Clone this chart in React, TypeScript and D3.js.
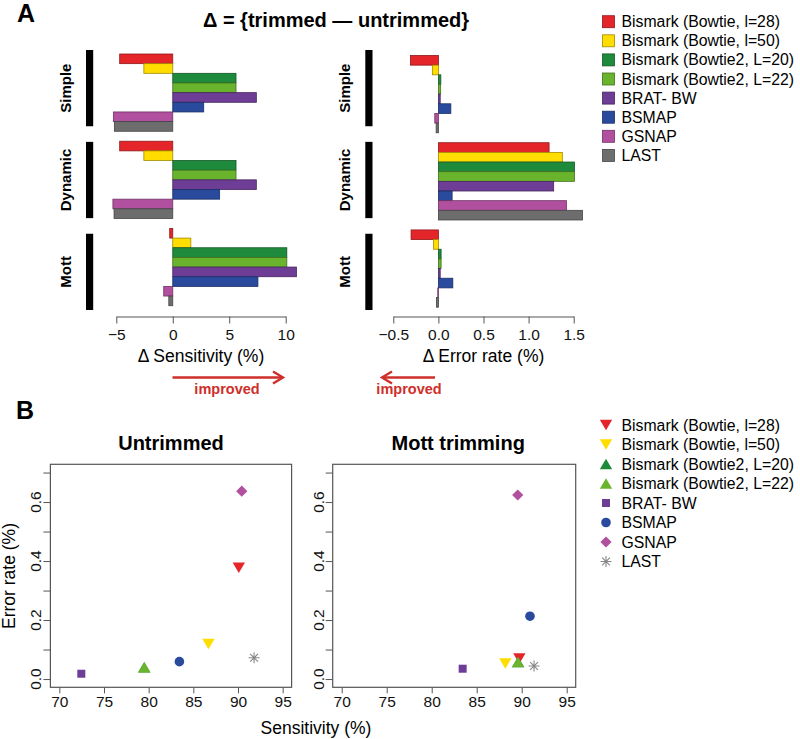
import * as d3 from 'd3';
import React, { useEffect, useRef } from 'react';

// methods, shared by every panel
const methods = [
    'Bismark (Bowtie, l=28)',
    'Bismark (Bowtie, l=50)',
    'Bismark (Bowtie2, L=20)',
    'Bismark (Bowtie2, L=22)',
    'BRAT- BW',
    'BSMAP',
    'GSNAP',
    'LAST',
];
const colors = ['#e4262a', '#ffdd00', '#1e8a3c', '#6ab42d', '#6e3d96', '#2a4a9e', '#b0509e', '#6d6d6d'];
const shapes = ['down', 'down', 'up', 'up', 'square', 'circle', 'diamond', 'star'];
const groups = ['Simple', 'Dynamic', 'Mott'];

// panel A: trimmed - untrimmed
const sensSimple = [-4.7, -2.56, 5.6, 5.6, 7.4, 2.74, -5.26, -5.17];
const sensDynamic = [-4.7, -2.56, 5.6, 5.6, 7.4, 4.15, -5.3, -5.2];
const sensMott = [-0.27, 1.6, 10.1, 10.1, 10.95, 7.54, -0.8, -0.35];
const errSimple = [-0.31, -0.067, 0.027, 0.025, 0.02, 0.138, -0.04, -0.025];
const errDynamic = [1.227, 1.374, 1.508, 1.508, 1.278, 0.152, 1.419, 1.597];
const errMott = [-0.303, -0.055, 0.03, 0.03, 0.02, 0.16, -0.007, -0.022];
const sensTicks = [-5, 0, 5, 10];
const errTicks = [-0.5, 0, 0.5, 1, 1.5];

// panel B: sensitivity vs error rate
const untrimmedSens = [90.09, 86.69, 79.5, 79.52, 72.46, 83.44, 90.42, 91.8];
const untrimmedErr = [0.377, 0.119, 0.04, 0.04, 0.018, 0.059, 0.637, 0.072];
const mottSens = [89.74, 88.18, 89.6, 89.6, 83.44, 90.92, 89.56, 91.37];
const mottErr = [0.07, 0.053, 0.058, 0.058, 0.035, 0.213, 0.624, 0.044];
const scatterXTicks = [70, 75, 80, 85, 90, 95];
const scatterYTicks = [0, 0.1, 0.2, 0.3, 0.4, 0.5, 0.6, 0.7];

const FONT = 'Liberation Sans, Arial, Helvetica, sans-serif';
const AXIS = '#555';
const RED = '#cf2f2a';

function drawMarker(g, shape, x, y, color, scale = 1) {
    const s = scale;
    if (shape === 'down' || shape === 'up') {
        const dir = shape === 'down' ? 1 : -1;
        const w = 6.2 * s, h = 10.5 * s;
        g.append('path')
            .attr('d', `M${x - w},${y - dir * h / 2}L${x + w},${y - dir * h / 2}L${x},${y + dir * h / 2}Z`)
            .attr('fill', color);
    } else if (shape === 'square') {
        const a = 4 * s;
        g.append('rect').attr('x', x - a).attr('y', y - a).attr('width', 2 * a).attr('height', 2 * a).attr('fill', color);
    } else if (shape === 'circle') {
        g.append('circle').attr('cx', x).attr('cy', y).attr('r', 4.8 * s).attr('fill', color);
    } else if (shape === 'diamond') {
        const a = 5.6 * s;
        g.append('path').attr('d', `M${x},${y - a}L${x + a},${y}L${x},${y + a}L${x - a},${y}Z`).attr('fill', color);
    } else {
        const a = 5.5 * s, b = a * 0.707;
        g.append('path')
            .attr('d', `M${x - a},${y}H${x + a}M${x},${y - a}V${y + a}M${x - b},${y - b}L${x + b},${y + b}M${x - b},${y + b}L${x + b},${y - b}`)
            .attr('stroke', '#888').attr('stroke-width', 1.1).attr('fill', 'none');
    }
}

function arrow(svg, x1, x2, y) {
    const dir = x2 > x1 ? 1 : -1;
    const g = svg.append('g').attr('stroke', RED).attr('stroke-width', 2.4).attr('fill', 'none');
    g.append('line').attr('x1', x1).attr('x2', x2).attr('y1', y).attr('y2', y);
    g.append('path')
        .attr('d', `M${x2 - dir * 10},${y - 6}L${x2},${y}L${x2 - dir * 10},${y + 6}`)
        .attr('stroke-linejoin', 'miter');
}

function App() {
    const ref = useRef(null);

    useEffect(() => {
        const svg = d3.select(ref.current);
        svg.selectAll('*').remove();

        svg.append('text').attr('x', 17).attr('y', 22).attr('font-size', 25).attr('font-weight', 'bold').text('A');
        svg.append('text').attr('x', 16).attr('y', 419).attr('font-size', 25).attr('font-weight', 'bold').text('B');

        svg.append('text')
            .attr('x', 336).attr('y', 27)
            .attr('text-anchor', 'middle')
            .attr('font-size', 20).attr('font-weight', 'bold')
            .text('\u0394 = {trimmed \u2014 untrimmed}');

        // ---- panel A bar charts ----
        const groupBand = d3.scaleBand().domain(groups).range([54, 305.7]).paddingInner(0.114);
        const labelBand = d3.scaleBand().domain(groups).range([50, 310]).paddingInner(0.17);
        const barBand = d3.scaleBand().domain(methods).range([0, groupBand.bandwidth()]);

        const panels = [
            {
                values: [sensSimple, sensDynamic, sensMott],
                x: d3.scaleLinear().domain([-5, 10]).range([116.3, 285.7]),
                ticks: sensTicks, fmt: (d) => d3.format('d')(d).replace('-', '\u2212'),
                title: '\u0394 Sensitivity (%)', blackX: 86, labelX: 71, dy: 0,
            },
            {
                values: [errSimple, errDynamic, errMott],
                x: d3.scaleLinear().domain([-0.5, 1.5]).range([393.3, 573.7]),
                ticks: errTicks, fmt: (d) => d3.format('.1f')(d).replace('-', '\u2212'),
                title: '\u0394 Error rate (%)', blackX: 365.3, labelX: 350, dy: 1.5,
            },
        ];

        panels.forEach((p) => {
            const g = svg.append('g');
            groups.forEach((grp, gi) => {
                // black bracket and group label
                g.append('rect')
                    .attr('x', p.blackX).attr('y', labelBand(grp))
                    .attr('width', 7.2).attr('height', labelBand.bandwidth())
                    .attr('fill', 'black');
                g.append('text')
                    .attr('transform', `translate(${p.labelX},${labelBand(grp) + labelBand.bandwidth() / 2}) rotate(-90)`)
                    .attr('text-anchor', 'middle')
                    .attr('font-size', 15).attr('font-weight', 'bold')
                    .text(grp);

                g.selectAll(null)
                    .data(p.values[gi])
                    .enter()
                    .append('rect')
                    .attr('x', (d) => p.x(Math.min(0, d)))
                    .attr('y', (d, i) => groupBand(grp) + barBand(methods[i]) + p.dy)
                    .attr('width', (d) => Math.abs(p.x(d) - p.x(0)))
                    .attr('height', barBand.bandwidth())
                    .attr('fill', (d, i) => colors[i])
                    .attr('stroke', (d, i) => d3.color(colors[i]).darker(1.3))
                    .attr('stroke-width', 0.8);
            });

            const axis = d3.axisBottom(p.x).tickValues(p.ticks).tickSize(7).tickSizeOuter(0).tickPadding(5).tickFormat(p.fmt);
            const ag = g.append('g').attr('transform', 'translate(0,316.5)').call(axis);
            ag.selectAll('path, line').attr('stroke', AXIS);
            ag.selectAll('text').attr('font-size', 15.5).attr('font-family', FONT).attr('fill', '#111');

            const [x0, x1] = p.x.range();
            g.append('text')
                .attr('x', (x0 + x1) / 2).attr('y', 362)
                .attr('text-anchor', 'middle')
                .attr('font-size', 17.5)
                .text(p.title);
        });

        arrow(svg, 172.5, 283, 377.5);
        arrow(svg, 435, 382, 377.5);
        svg.append('text').attr('x', 227).attr('y', 394).attr('text-anchor', 'middle')
            .attr('font-size', 14.5).attr('font-weight', 'bold').attr('fill', RED).text('improved');
        svg.append('text').attr('x', 409).attr('y', 394).attr('text-anchor', 'middle')
            .attr('font-size', 14.5).attr('font-weight', 'bold').attr('fill', RED).text('improved');

        // legend A
        methods.forEach((m, i) => {
            const cy = 21.7 + i * 19.1;
            svg.append('rect')
                .attr('x', 602.5).attr('y', cy - 6).attr('width', 12).attr('height', 12)
                .attr('fill', colors[i])
                .attr('stroke', d3.color(colors[i]).darker(1.3)).attr('stroke-width', 0.8);
            svg.append('text').attr('x', 621.5).attr('y', cy + 5.5).attr('font-size', 15.8).text(m);
        });

        // ---- panel B scatter plots ----
        const yScale = d3.scaleLinear().domain([-0.028, 0.728]).range([687.3, 464.3]);
        const plots = [
            { title: 'Untrimmed', sens: untrimmedSens, err: untrimmedErr, range: [50.4, 291.6] },
            { title: 'Mott trimming', sens: mottSens, err: mottErr, range: [332.7, 575.7] },
        ];

        plots.forEach((p, pi) => {
            const x = d3.scaleLinear().domain([69, 96]).range(p.range);
            const g = svg.append('g');
            const [y0, y1] = yScale.range();

            g.append('rect')
                .attr('x', p.range[0]).attr('y', y1)
                .attr('width', p.range[1] - p.range[0]).attr('height', y0 - y1)
                .attr('fill', 'none').attr('stroke', AXIS).attr('stroke-width', 1.2);

            const xa = g.append('g').attr('transform', `translate(0,${y0})`)
                .call(d3.axisBottom(x).tickValues(scatterXTicks).tickSize(6).tickSizeOuter(0).tickPadding(3));
            xa.select('.domain').remove();
            xa.selectAll('line').attr('stroke', AXIS);
            xa.selectAll('text').attr('font-size', 15.5).attr('font-family', FONT).attr('fill', '#111');

            const ya = g.append('g').attr('transform', `translate(${p.range[0]},0)`)
                .call(d3.axisLeft(yScale).tickValues(scatterYTicks).tickSize(7).tickSizeOuter(0).tickFormat(() => ''));
            ya.select('.domain').remove();
            ya.selectAll('line').attr('stroke', AXIS);
            [0, 0.2, 0.4, 0.6].forEach((v) => {
                g.append('text')
                    .attr('transform', `translate(${p.range[0] - 9},${yScale(v)}) rotate(-90)`)
                    .attr('text-anchor', 'middle')
                    .attr('font-size', 15.5)
                    .attr('fill', '#111')
                    .text(d3.format('.1f')(v));
            });

            g.append('text')
                .attr('x', (p.range[0] + p.range[1]) / 2 + (pi === 1 ? 4 : 0)).attr('y', 450)
                .attr('text-anchor', 'middle')
                .attr('font-size', 20).attr('font-weight', 'bold')
                .text(p.title);

            p.sens.forEach((s, i) => {
                drawMarker(g, shapes[i], x(s), yScale(p.err[i]), colors[i]);
            });
        });

        svg.append('text')
            .attr('x', 316).attr('y', 734)
            .attr('text-anchor', 'middle').attr('font-size', 17.5)
            .text('Sensitivity (%)');
        svg.append('text')
            .attr('transform', 'translate(15,576) rotate(-90)')
            .attr('text-anchor', 'middle').attr('font-size', 17.5)
            .text('Error rate (%)');

        // legend B
        methods.forEach((m, i) => {
            const cy = 425 + i * 19.5;
            drawMarker(svg, shapes[i], 606, cy, colors[i]);
            svg.append('text').attr('x', 621.5).attr('y', cy + 5.5).attr('font-size', 15.8).text(m);
        });
    }, []);

    return (
        <svg
            ref={ref}
            width={800}
            height={739}
            fontFamily={FONT}
            style={{ position: 'absolute', left: 0, top: 0, background: 'white' }}
        />
    );
}

export default App;
